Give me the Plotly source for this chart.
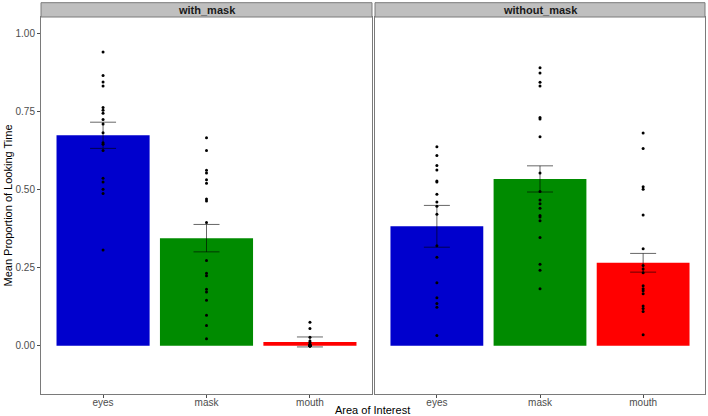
import plotly.graph_objects as go

W, H = 708, 416

categories = ["eyes", "mask", "mouth"]
conditions = ["with_mask", "without_mask"]
bar_colors = ["#0000CD", "#008B00", "#FF0000"]

# bar heights (mean proportion) and standard errors
with_mask_mean = [0.675, 0.345, 0.012]
with_mask_se = [0.042, 0.044, 0.016]
without_mask_mean = [0.383, 0.535, 0.266]
without_mask_se = [0.067, 0.042, 0.030]

# individual participant points
with_eyes = [0.942, 0.867, 0.846, 0.833, 0.764, 0.755, 0.746, 0.726, 0.711, 0.683,
             0.651, 0.646, 0.626, 0.537, 0.525, 0.502, 0.488, 0.307]
with_mask_pts = [0.667, 0.626, 0.563, 0.554, 0.532, 0.521, 0.471, 0.464, 0.395, 0.273,
                 0.232, 0.224, 0.181, 0.172, 0.146, 0.098, 0.065, 0.022]
with_mouth = [0.075, 0.055, 0.027, 0.015, 0.010, 0.005, 0.002, 0.0, 0.0, 0.0,
              0.0, 0.0, 0.0, 0.0, 0.0, 0.0, 0.0, 0.0]
without_eyes = [0.638, 0.610, 0.578, 0.564, 0.528, 0.525, 0.486, 0.461, 0.447, 0.422,
                0.321, 0.284, 0.202, 0.154, 0.135, 0.123, 0.033]
without_mask_pts = [0.892, 0.875, 0.845, 0.833, 0.732, 0.727, 0.670, 0.554, 0.495, 0.467,
                    0.455, 0.441, 0.418, 0.413, 0.401, 0.347, 0.261, 0.242, 0.183]
without_mouth = [0.682, 0.633, 0.510, 0.502, 0.419, 0.311, 0.257, 0.246, 0.234, 0.192,
                 0.183, 0.176, 0.167, 0.127, 0.119, 0.110, 0.035]

y_ticks = [0.0, 0.25, 0.5, 0.75, 1.0]
y_tick_labels = ["0.00", "0.25", "0.50", "0.75", "1.00"]

fig = go.Figure()

err_color = "rgba(0,0,0,0.6)"
panels = [
    ("x", "y", with_mask_mean, with_mask_se, [with_eyes, with_mask_pts, with_mouth]),
    ("x2", "y2", without_mask_mean, without_mask_se, [without_eyes, without_mask_pts, without_mouth]),
]
for xa, ya, means, ses, pts in panels:
    fig.add_trace(go.Bar(
        x=categories, y=means, xaxis=xa, yaxis=ya, width=0.9,
        marker=dict(color=bar_colors, line=dict(width=0)),
        error_y=dict(type="data", array=ses, visible=True, color=err_color,
                     thickness=1, width=13),
        showlegend=False, hoverinfo="skip"))
    for cat, vals in zip(categories, pts):
        fig.add_trace(go.Scatter(
            x=[cat] * len(vals), y=vals, xaxis=xa, yaxis=ya, mode="markers",
            marker=dict(color="black", size=3, line=dict(width=0)),
            showlegend=False, hoverinfo="skip"))

ydom = [22 / H, 399 / H]
x1dom = [41 / W, 372 / W]
x2dom = [375 / W, 705 / W]
tickfont = dict(family="Liberation Sans, Arial, sans-serif", size=10, color="#4d4d4d")
axis_common = dict(showline=True, mirror=True, linecolor="#7a7a7a", linewidth=1,
                   showgrid=False, zeroline=False, automargin=False,
                   ticks="outside", ticklen=3, tickcolor="#4d4d4d", tickfont=tickfont)

fig.update_layout(
    width=W, height=H,
    margin=dict(l=0, r=0, t=0, b=0),
    paper_bgcolor="white", plot_bgcolor="white",
    barmode="overlay",
    font=dict(family="Liberation Sans, Arial, sans-serif"),
    xaxis=dict(domain=x1dom, anchor="y", range=[-0.6, 2.6], type="category",
               categoryorder="array", categoryarray=categories,
               ticklabelstandoff=-4, **axis_common),
    xaxis2=dict(domain=x2dom, anchor="y2", range=[-0.6, 2.6], type="category",
                categoryorder="array", categoryarray=categories,
                ticklabelstandoff=-4, **axis_common),
    yaxis=dict(domain=ydom, anchor="x", range=[-0.155, 1.0545],
               tickvals=y_ticks, ticktext=y_tick_labels, **axis_common),
    yaxis2=dict(domain=ydom, anchor="x2", range=[-0.155, 1.0545],
                tickvals=y_ticks, showticklabels=False,
                **{k: v for k, v in axis_common.items() if k not in ("ticks",)}, ticks=""),
)

strip_top = (H - 2.7) / H
for dom, label in zip([x1dom, x2dom], conditions):
    fig.add_shape(type="rect", xref="paper", yref="paper",
                  x0=dom[0], x1=dom[1], y0=ydom[1], y1=strip_top,
                  fillcolor="#BFBFBF", line=dict(color="#7a7a7a", width=1), layer="above")
    fig.add_annotation(xref="paper", yref="paper", x=(dom[0] + dom[1]) / 2,
                       y=(ydom[1] + strip_top) / 2, text="<b>" + label + "</b>",
                       showarrow=False, xanchor="center", yanchor="middle",
                       font=dict(size=11, color="#1a1a1a"))

fig.add_annotation(xref="paper", yref="paper", x=372 / W, y=(H - 410) / H,
                   text="Area of Interest", showarrow=False, xanchor="center",
                   yanchor="middle", font=dict(size=11, color="black"))
fig.add_annotation(xref="paper", yref="paper", x=7 / W, y=(ydom[0] + ydom[1]) / 2,
                   text="Mean Proportion of Looking Time", showarrow=False,
                   textangle=-90, xanchor="center", yanchor="middle",
                   font=dict(size=11, color="black"))

fig.write_html("out.html", config={"displayModeBar": False},
               post_script="document.body.style.margin='0';document.body.style.padding='0';document.body.style.overflow='hidden';")
